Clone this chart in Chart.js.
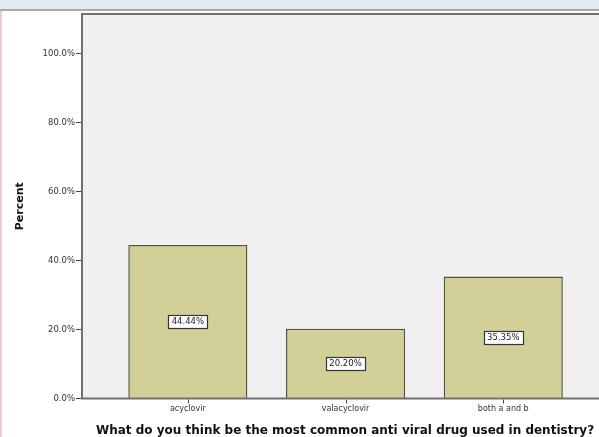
<!DOCTYPE html>
<html>
<head>
<meta charset="utf-8">
<script src="https://cdn.jsdelivr.net/npm/chart.js@4.4.0/dist/chart.umd.min.js"></script>
<style>
  html, body { margin: 0; padding: 0; background: #fff; overflow: hidden; width: 599px; height: 437px; }
  #strip { position: absolute; left: 0; top: 0; width: 599px; height: 9px; background: #e2e9f0; border-bottom: 2px solid #a9a9a9; z-index: 2; }
  #edge { position: absolute; left: 0; top: 11px; width: 2px; height: 426px; background: #f5c9c9; z-index: 2; }
  #wrap { position: absolute; left: 0; top: 0; width: 608px; height: 437px; }
</style>
</head>
<body>
<div id="strip"></div>
<div id="edge"></div>
<div id="wrap"><canvas id="grafico"></canvas></div>
<script>
  // categorias e percentuais
  var categorias = ['acyclovir', 'valacyclovir', 'both a and b']
  var percentuais = [44.44, 20.20, 35.35]
  var ticksY = [0, 20, 40, 60, 80, 100]

  var pontos = percentuais.map(function (v, i) { return { x: i, y: v } })

  var fonte = '"DejaVu Sans", Verdana, sans-serif'

  // fundo cinza, moldura e tracinhos do eixo x
  var fundoArea = {
    id: 'fundoArea',
    beforeDraw: function (chart) {
      var a = chart.chartArea
      var ctx = chart.ctx
      ctx.save()
      ctx.fillStyle = '#f0f0f0'
      ctx.fillRect(a.left, a.top, a.right - a.left, a.bottom - a.top)
      ctx.restore()
    },
    afterDraw: function (chart) {
      var a = chart.chartArea
      var ctx = chart.ctx
      var escalaX = chart.scales.x
      ctx.save()
      ctx.strokeStyle = '#707070'
      ctx.lineWidth = 2
      ctx.strokeRect(a.left, a.top, a.right - a.left, a.bottom - a.top)
      ctx.strokeStyle = '#444'
      ctx.lineWidth = 1
      categorias.forEach(function (c, i) {
        var px = Math.round(escalaX.getPixelForValue(i)) + 0.5
        ctx.beginPath()
        ctx.moveTo(px, a.bottom + 1)
        ctx.lineTo(px, a.bottom + 5)
        ctx.stroke()
      })
      ctx.restore()
    }
  }

  // caixinhas com o valor no meio de cada barra
  var rotulos = {
    id: 'rotulos',
    afterDatasetsDraw: function (chart) {
      var ctx = chart.ctx
      var meta = chart.getDatasetMeta(0)
      ctx.save()
      ctx.font = '8.5px ' + fonte
      ctx.textAlign = 'center'
      ctx.textBaseline = 'middle'
      meta.data.forEach(function (bar, i) {
        var texto = percentuais[i].toFixed(2) + '%'
        var yMeio = (bar.y + bar.base) / 2
        var w = Math.round(ctx.measureText(texto).width + 7)
        var h = 13
        var x0 = Math.round(bar.x - w / 2) + 0.5
        var y0 = Math.round(yMeio - h / 2) + 0.5
        ctx.fillStyle = '#ffffff'
        ctx.fillRect(x0, y0, w, h)
        ctx.strokeStyle = '#333'
        ctx.lineWidth = 1.2
        ctx.strokeRect(x0, y0, w, h)
        ctx.fillStyle = '#222'
        ctx.fillText(texto, bar.x, yMeio + 0.5)
      })
      ctx.restore()
    }
  }

  const config = {
    type: 'bar',
    data: {
      datasets: [{
        data: pontos,
        backgroundColor: '#d3cf99',
        borderColor: '#55553f',
        borderWidth: 1.5,
        barPercentage: 0.755,
        categoryPercentage: 1
      }]
    },
    options: {
      responsive: false,
      animation: false,
      layout: { padding: { left: 0, right: 0, top: 14, bottom: 0 } },
      plugins: { legend: { display: false }, tooltip: { enabled: false } },
      scales: {
        x: {
          type: 'linear',
          offset: false,
          min: -0.671,
          max: 2.664,
          afterBuildTicks: function (scale) {
            scale.ticks = categorias.map(function (c, i) { return { value: i } })
          },
          afterFit: function (scale) { scale.height = 38.5 },
          grid: { display: false, drawTicks: false },
          border: { display: false },
          ticks: {
            color: '#333',
            font: { family: fonte, size: 8 },
            padding: 6,
            maxRotation: 0,
            callback: function (v) { return categorias[v] }
          },
          title: {
            display: true,
            text: 'What do you think be the most common anti viral drug used in dentistry?',
            color: '#111',
            font: { family: fonte, size: 12, weight: 'bold', lineHeight: 1 },
            padding: { top: 0, bottom: 0 }
          }
        },
        y: {
          min: 0,
          max: 111.4,
          afterBuildTicks: function (scale) {
            scale.ticks = ticksY.map(function (v) { return { value: v } })
          },
          afterFit: function (scale) { scale.width = 82 },
          grid: { drawOnChartArea: false, drawTicks: true, tickLength: 6, color: '#444' },
          border: { display: false },
          ticks: {
            color: '#333',
            font: { family: fonte, size: 8.5 },
            padding: 1,
            callback: function (v) { return v.toFixed(1) + '%' }
          },
          title: {
            display: true,
            text: 'Percent',
            color: '#111',
            font: { family: fonte, size: 11, weight: 'bold', lineHeight: 1.2 },
            padding: { top: 14, bottom: 0 }
          }
        }
      }
    },
    plugins: [fundoArea, rotulos]
  }

  var canvas = document.getElementById('grafico')
  canvas.width = 608
  canvas.height = 437
  const meuGrafico = new Chart(canvas, config)
</script>
</body>
</html>
